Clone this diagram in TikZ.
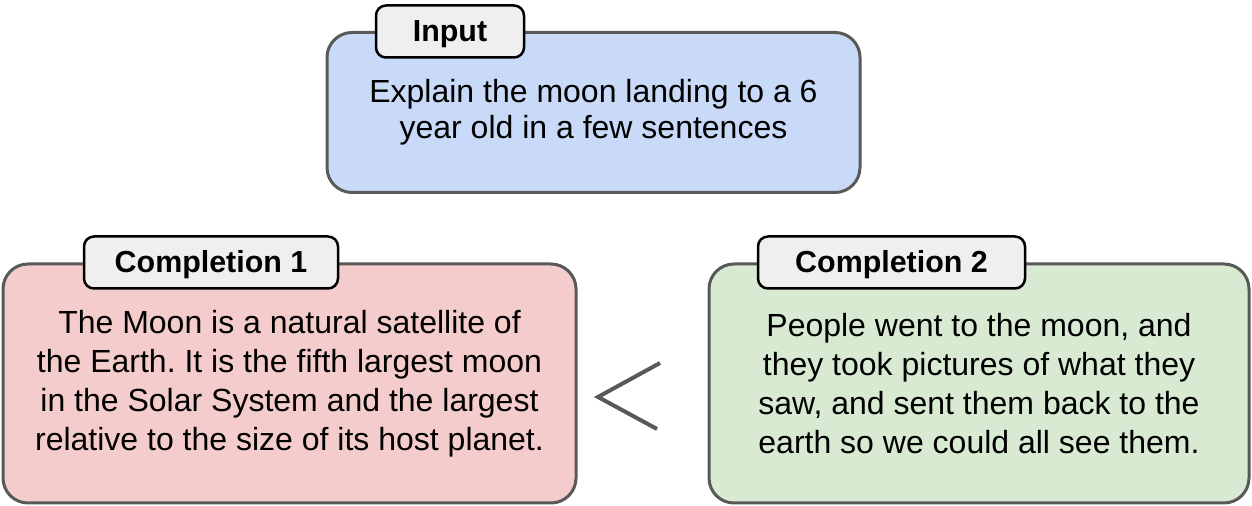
\documentclass[tikz,border=0pt]{standalone}
\usepackage{fontspec}
\setmainfont{Liberation Sans}
\usepackage{tikz}
\usepackage{xcolor}
\usetikzlibrary{arrows,positioning,shapes}
\definecolor{inblue}{HTML}{C9DAF8}
\definecolor{badred}{HTML}{F4CCCC}
\definecolor{goodgreen}{HTML}{D9EAD3}
\definecolor{tagfill}{HTML}{EFEFEF}
\definecolor{edgegray}{HTML}{595959}
\frenchspacing

\begin{document}
\begin{tikzpicture}[x=0.5pt, y=-0.5pt]
        \tikzstyle{box} = [draw=edgegray, line width=1.5pt, rounded corners=12.5pt, align=center,
            font=\fontsize{16}{18}\selectfont, inner sep=0pt]
        \tikzstyle{tag} = [draw=black, fill=tagfill, line width=1.25pt, rounded corners=5pt,
            minimum height=26pt, inner sep=0pt, text height=11pt, text depth=1pt,
            font=\fontsize{15.2}{18}\selectfont\bfseries]
        \useasboundingbox (0,0) rectangle (1252,506);
        \node[box, fill=inblue, minimum width=266.5pt, minimum height=80pt] (input) at (593.5,112.5)
            {Explain the moon landing to a 6\\year old in a few sentences};
        \node[tag, minimum width=74pt] (inputtag) at (450,31.5) {Input};
        \node[box, fill=badred, minimum width=286.5pt, minimum height=119.5pt,
            font=\fontsize{16}{19.5}\selectfont] (compa) at (289.5,383.5)
            {The Moon is a natural satellite of\\the Earth. It is the fifth largest moon\\in the Solar System and the largest\\relative to the size of its host planet.};
        \node[tag, minimum width=127pt] (compatag) at (211,262.5) {Completion 1};
        \node[box, fill=goodgreen, minimum width=270pt, minimum height=119.5pt,
            font=\fontsize{16}{19.5}\selectfont] (compb) at (979,383.5)
            {People went to the moon, and\\they took pictures of what they\\saw, and sent them back to the\\earth so we could all see them.};
        \node[tag, minimum width=133.5pt] (compbtag) at (891.5,262.5) {Completion 2};
        \draw[edgegray, line width=2pt] (660,363) -- (598,397) -- (657,429);
\end{tikzpicture}
\end{document}
